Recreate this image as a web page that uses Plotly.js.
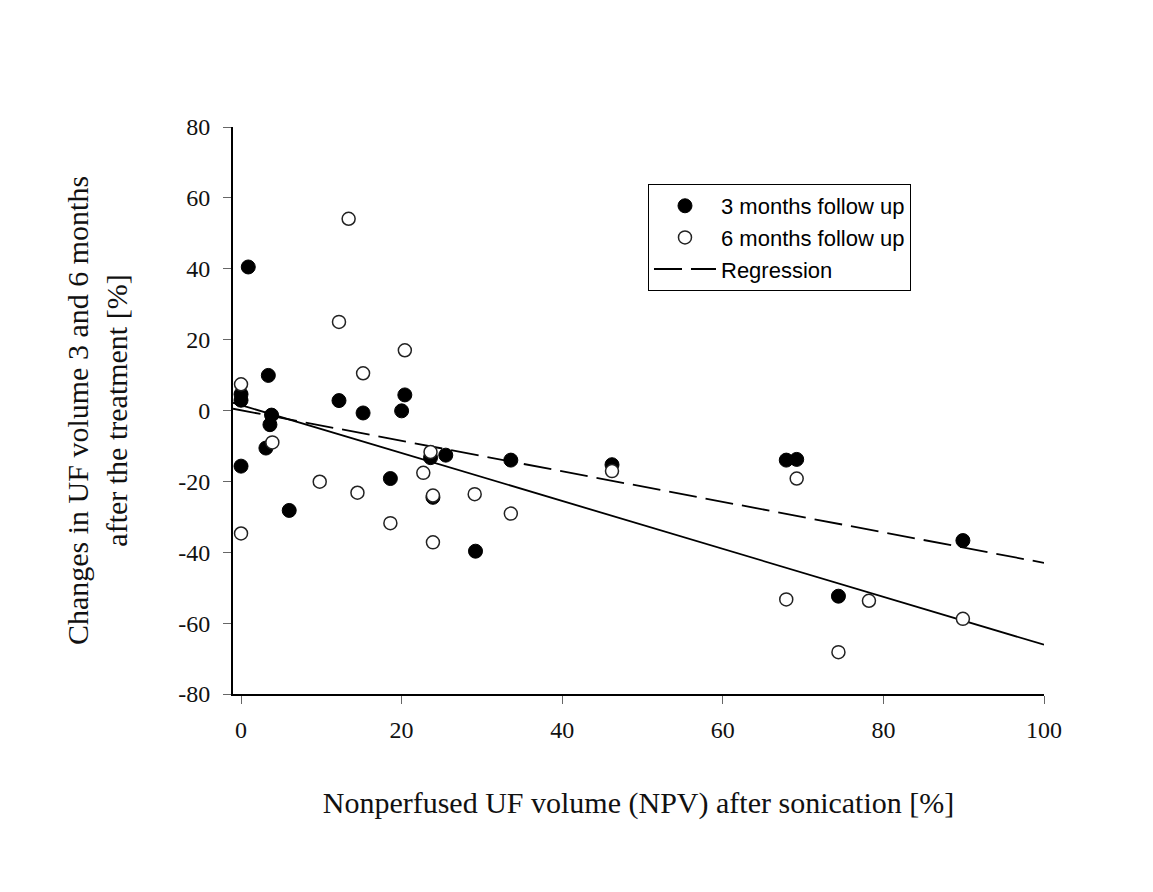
<!DOCTYPE html>
<html>
<head>
<meta charset="utf-8">
<script src="https://cdn.plot.ly/plotly-3.0.1.min.js"></script>
<style>html,body{margin:0;padding:0;background:#fff;}#chart{width:1153px;height:892px;}</style>
</head>
<body>
<div id="chart"></div>
<script>
// 3 months follow up (filled)
const x3 = [0.9, 3.4, 0, 0, 20.4, 12.2, 15.2, 20.0, 3.8, 3.6, 3.1, 0, 18.6, 6.0, 29.2, 23.9, 23.6, 25.5, 33.6, 46.2, 67.9, 69.2, 89.9, 74.4];
const y3 = [40.5, 9.9, 4.6, 2.9, 4.4, 2.8, -0.7, -0.1, -1.3, -4.0, -10.6, -15.7, -19.2, -28.2, -39.7, -24.5, -13.3, -12.6, -14.0, -15.3, -14.0, -13.8, -36.7, -52.4];
// 6 months follow up (open)
const x6 = [13.4, 12.2, 20.4, 15.2, 0, 3.9, 9.8, 14.5, 18.6, 0, 23.9, 29.1, 33.6, 23.9, 22.7, 23.6, 46.2, 69.2, 67.9, 78.2, 89.9, 74.4];
const y6 = [54.1, 25.0, 17.0, 10.5, 7.4, -9.0, -20.1, -23.2, -31.8, -34.7, -37.2, -23.6, -29.1, -24.0, -17.6, -11.7, -17.1, -19.2, -53.3, -53.7, -58.8, -68.2];
// regression lines
const regX = [-1, 100];
const regSolidY = [2.2, -66.1];
const regDashY = [0.5, -43.0];
const xTicks = [0, 20, 40, 60, 80, 100];
const yTicks = [-80, -60, -40, -20, 0, 20, 40, 60, 80];

const serif = 'Liberation Serif, Times New Roman, serif';
const data = [
  {x: regX, y: regSolidY, mode: 'lines', line: {color: '#000', width: 1.8}, showlegend: false, hoverinfo: 'skip'},
  {x: regX, y: regDashY, mode: 'lines', name: 'Regression', legendrank: 3, line: {color: '#000', width: 1.8, dash: '28px,9px'}},
  {x: x3, y: y3, mode: 'markers', name: '3 months follow up', legendrank: 1, marker: {symbol: 'circle', size: 14, color: '#000', line: {color: '#000', width: 1}}},
  {x: x6, y: y6, mode: 'markers', name: '6 months follow up', legendrank: 2, marker: {symbol: 'circle', size: 13, color: '#fff', line: {color: '#222', width: 1.5}}}
];
const layout = {
  width: 1153, height: 892,
  paper_bgcolor: '#fff', plot_bgcolor: '#fff',
  margin: {l: 233, r: 109, t: 127, b: 198},
  showlegend: true,
  legend: {
    x: 0.5117, y: 0.8995, xanchor: 'left', yanchor: 'top',
    bordercolor: '#000', borderwidth: 1, bgcolor: '#fff',
    font: {family: 'Liberation Sans, Arial, sans-serif', size: 22, color: '#000'},
    traceorder: 'normal', tracegroupgap: 0, itemwidth: 62
  },
  xaxis: {
    range: [-1, 100], tickvals: xTicks, ticktext: xTicks.map(String),
    showgrid: false, zeroline: false, showline: true, linecolor: '#000', linewidth: 2,
    ticks: 'outside', ticklen: 8, tickcolor: '#666', tickwidth: 1, ticklabelstandoff: 5,
    tickfont: {family: serif, size: 24, color: '#111'},
    title: {text: 'Nonperfused UF volume (NPV) after sonication [%]', font: {family: serif, size: 30, color: '#111'}, standoff: 50},
    automargin: false
  },
  yaxis: {
    range: [-80, 80], tickvals: yTicks, ticktext: yTicks.map(String),
    showgrid: false, zeroline: false, showline: true, linecolor: '#000', linewidth: 2,
    ticks: 'outside', ticklen: 8, tickcolor: '#666', tickwidth: 1, ticklabelstandoff: 8,
    tickfont: {family: serif, size: 24, color: '#111'},
    title: {text: 'Changes in UF volume 3 and 6 months<br>after the treatment [%]', font: {family: serif, size: 30, color: '#111'}, standoff: 42},
    automargin: false
  }
};
Plotly.newPlot('chart', data, layout, {displayModeBar: false, staticPlot: true});
</script>
</body>
</html>
